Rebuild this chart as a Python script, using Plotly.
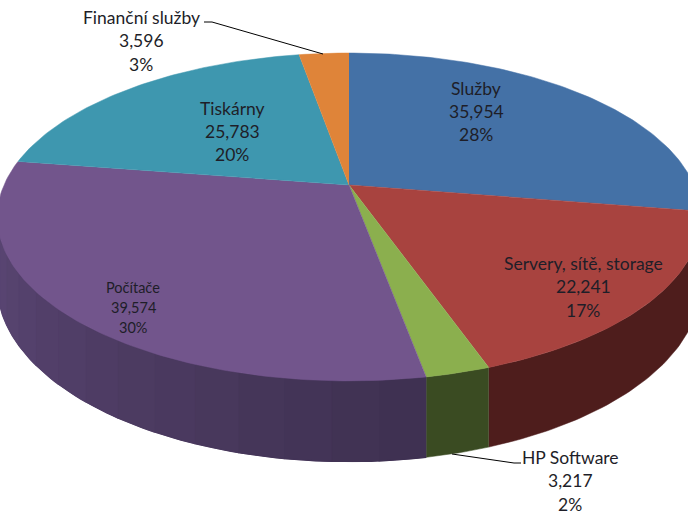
import math
import plotly.graph_objects as go

# data (order: clockwise from 12 o'clock)
categories = ["Služby", "Servery, sítě, storage", "HP Software", "Počítače", "Tiskárny", "Finanční služby"]
values = [35954, 22241, 3217, 39574, 25783, 3596]
top_colors = ["#4471A6", "#A8433F", "#8BAF4E", "#72558C", "#3E97AF", "#DF8439"]
side_colors = ["#2C4A70", "#4E1D1C", "#3A4B22", "#3F3151", "#2A6678", "#94562A"]

# projection of the tilted disc
CX, CY = 349, 185
A, B, K, H = 345, 157.7, 0.195, 65


def proj(theta, z=0):
    t = math.radians(theta)
    u, v = math.sin(t), -math.cos(t)
    w = 1 - K * v
    return CX + A * u / w, CY + (B * v + H * z) / w


def arc(a0, a1, n=60):
    steps = max(2, int(abs(a1 - a0) / 360 * n * 6))
    return [a0 + (a1 - a0) * i / steps for i in range(steps + 1)]


def shade(hexcol, m):
    r, g, b = (int(hexcol[i:i + 2], 16) for i in (1, 3, 5))
    r, g, b = (min(255, int(c * m)) for c in (r, g, b))
    return f"#{r:02x}{g:02x}{b:02x}"


def poly(pts, col, lw=0.5, **kw):
    return go.Scatter(x=[p[0] for p in pts], y=[p[1] for p in pts],
                      mode="lines", fill="toself", fillcolor=col,
                      line=dict(color=col, width=lw), showlegend=False, **kw)


total = sum(values)
starts, ends = [], []
acc = 0
for v in values:
    starts.append(acc / total * 360)
    acc += v
    ends.append(acc / total * 360)

fig = go.Figure()

# side walls (front half only), lighter towards the left
vis0 = math.degrees(math.acos(-K))
vis1 = 360 - vis0


def side_mult(a):
    return 1 + 0.45 * max(0, (a - 170) / (vis1 - 170))


for i, cat in enumerate(categories):
    a0, a1 = max(starts[i], vis0), min(ends[i], vis1)
    if a1 <= a0:
        continue
    angs = arc(a0, a1)
    outline = [proj(a) for a in angs] + [proj(a, 1) for a in reversed(angs)]
    base = shade(side_colors[i], side_mult((a0 + a1) / 2))
    fig.add_trace(poly(outline, base, hoverinfo="skip"))
    if side_mult(a1) - side_mult(a0) > 0.05:
        nstrip = 14
        for j in range(nstrip):
            b0 = a0 + (a1 - a0) * j / nstrip
            b1 = a0 + (a1 - a0) * (j + 1) / nstrip
            col = shade(side_colors[i], side_mult((b0 + b1) / 2))
            sub = arc(b0, b1)
            pts = [proj(a) for a in sub] + [proj(a, 1) for a in reversed(sub)]
            fig.add_trace(poly(pts, col, lw=1.2, hoverinfo="skip"))

# top faces
for i, cat in enumerate(categories):
    pts = [(CX, CY)] + [proj(a) for a in arc(starts[i], ends[i])]
    fig.add_trace(poly(pts, top_colors[i], name=cat,
                       text=f"{cat}: {values[i]:,}", hoverinfo="text"))

# leader lines
fig.add_trace(go.Scatter(x=[204, 212, 323], y=[22, 22, 54], mode="lines",
                         line=dict(color="#000000", width=1), hoverinfo="skip", showlegend=False))
fig.add_trace(go.Scatter(x=[452, 514, 521], y=[454, 463, 463], mode="lines",
                         line=dict(color="#000000", width=1), hoverinfo="skip", showlegend=False))

# labels: (x, first line y, line gap, font size)
label_pos = [(476, 88, 23, 17.5), (583, 263, 23.5, 17.5), (570, 457, 23.5, 17.5),
             (133, 287, 20, 14.5), (232, 108, 23, 17.5), (141, 17, 23.5, 17.5)]
for i, cat in enumerate(categories):
    x, y, gap, fs = label_pos[i]
    pct = round(values[i] / total * 100)
    for k, line in enumerate([cat, f"{values[i]:,}", f"{pct}%"]):
        fig.add_annotation(x=x, y=y + k * gap, text=line, showarrow=False,
                           xref="x", yref="y", xanchor="center", yanchor="middle",
                           font=dict(family="Lato, Open Sans, sans-serif", size=fs, color="#1E1E28"))

fig.update_xaxes(range=[0, 688], visible=False, fixedrange=True)
fig.update_yaxes(range=[516, 0], visible=False, fixedrange=True)
fig.update_layout(width=688, height=516, margin=dict(l=0, r=0, t=0, b=0),
                  plot_bgcolor="white", paper_bgcolor="white")

fig.write_html("out.html", config={"displayModeBar": False},
               post_script="document.body.style.margin='0';")
